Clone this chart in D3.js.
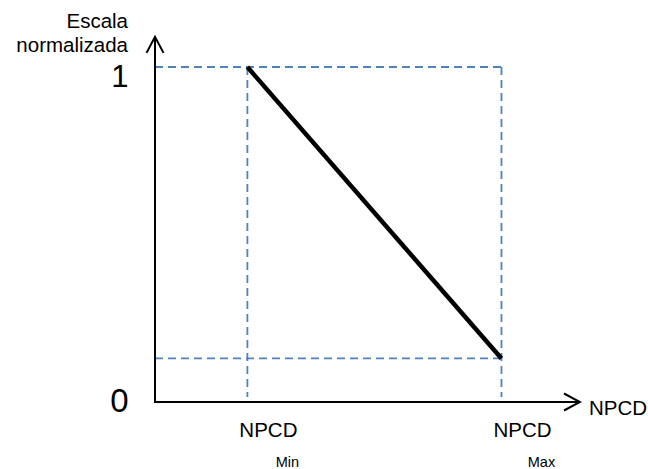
<!DOCTYPE html>
<html>
<head>
<meta charset="utf-8">
<script src="https://cdn.jsdelivr.net/npm/d3@7"></script>
<style>
  html, body { margin: 0; padding: 0; background: #ffffff; }
  svg { display: block; }
  svg text { font-family: "Liberation Sans", Arial, Helvetica, sans-serif; }
</style>
</head>
<body>
<svg id="chart" width="648" height="469"></svg>
<script>
// Normalised scale as a function of NPCD
const npcdLabels = ["Min", "Max"];
const npcdValues = [1, 3.75];          // NPCD_Min, NPCD_Max on the horizontal axis
const scaleValues = [1, 0.13];         // normalised value at NPCD_Min and NPCD_Max
const yTickLabels = ["0", "1"];
const yTickValues = [0, 1];
const xAxisExtent = [0, 4.6];
const yAxisExtent = [0, 1.09];

const svg = d3.select("#chart");

const x = d3.scaleLinear().domain(xAxisExtent).range([155, 580]);
const y = d3.scaleLinear().domain([0, 1]).range([402, 67]);

const blue = "#4f81bd";

// Arrowhead (open chevron)
const defs = svg.append("defs");
defs.append("marker")
  .attr("id", "arrow")
  .attr("viewBox", "-18 -10 20 20")
  .attr("refX", 0).attr("refY", 0)
  .attr("markerWidth", 20).attr("markerHeight", 20)
  .attr("markerUnits", "userSpaceOnUse")
  .attr("orient", "auto")
  .append("path")
  .attr("d", "M-16,-8.5L0,0L-16,8.5")
  .attr("fill", "none")
  .attr("stroke", "#000")
  .attr("stroke-width", 2);

// Dashed guide lines
const guides = svg.append("g")
  .attr("stroke", blue)
  .attr("stroke-width", 1.8)
  .attr("stroke-dasharray", "8,5")
  .attr("fill", "none");

// horizontal guides at the two scale values
guides.append("line")
  .attr("x1", x(0)).attr("x2", x(npcdValues[1]))
  .attr("y1", y(yTickValues[1])).attr("y2", y(yTickValues[1]));
guides.append("line")
  .attr("x1", x(0)).attr("x2", x(npcdValues[1]))
  .attr("y1", y(scaleValues[1])).attr("y2", y(scaleValues[1]));

// vertical guides at NPCD_Min and NPCD_Max
npcdValues.forEach(v => {
  guides.append("line")
    .attr("x1", x(v)).attr("x2", x(v))
    .attr("y1", y(1)).attr("y2", y(0) - 5);
});

// Axes
svg.append("line")
  .attr("x1", x(0)).attr("y1", y(0))
  .attr("x2", x(xAxisExtent[1])).attr("y2", y(0))
  .attr("stroke", "#000").attr("stroke-width", 2)
  .attr("marker-end", "url(#arrow)");
svg.append("line")
  .attr("x1", x(0)).attr("y1", y(0) + 1)
  .attr("x2", x(0)).attr("y2", y(yAxisExtent[1]))
  .attr("stroke", "#000").attr("stroke-width", 2)
  .attr("marker-end", "url(#arrow)");

// Normalisation line
const line = d3.line().x(d => x(d[0])).y(d => y(d[1]));
svg.append("path")
  .datum(npcdValues.map((v, i) => [v, scaleValues[i]]))
  .attr("d", line)
  .attr("fill", "none")
  .attr("stroke", "#000")
  .attr("stroke-width", 4.5);

// Y tick labels
svg.append("g").selectAll("text")
  .data(yTickValues)
  .join("text")
  .attr("x", 128.5)
  .attr("y", d => y(d) + (d === 0 ? 10 : 20))
  .attr("text-anchor", "end")
  .attr("font-size", d => d === 0 ? 33 : 31)
  .attr("fill", "#000")
  .text((d, i) => yTickLabels[i]);

// Y axis title
const yTitle = svg.append("text")
  .attr("text-anchor", "end")
  .attr("font-size", 20.5)
  .attr("fill", "#000");
yTitle.append("tspan").attr("x", 128).attr("y", 27.5).text("Escala");
yTitle.append("tspan").attr("x", 128).attr("y", 52).text("normalizada");

// X axis title
svg.append("text")
  .attr("x", 589).attr("y", 415)
  .attr("font-size", 20.5)
  .attr("fill", "#000")
  .text("NPCD");

// NPCD_Min / NPCD_Max labels
const xl = svg.append("g").selectAll("g")
  .data(npcdValues)
  .join("g");
xl.append("text")
  .attr("x", d => x(d) + 21)
  .attr("y", 437)
  .attr("text-anchor", "middle")
  .attr("font-size", 20.5)
  .attr("fill", "#000")
  .text("NPCD");
xl.append("text")
  .attr("x", d => x(d) + 40)
  .attr("y", 466.5)
  .attr("text-anchor", "middle")
  .attr("font-size", 14.5)
  .attr("fill", "#000")
  .text((d, i) => npcdLabels[i]);
</script>
</body>
</html>
